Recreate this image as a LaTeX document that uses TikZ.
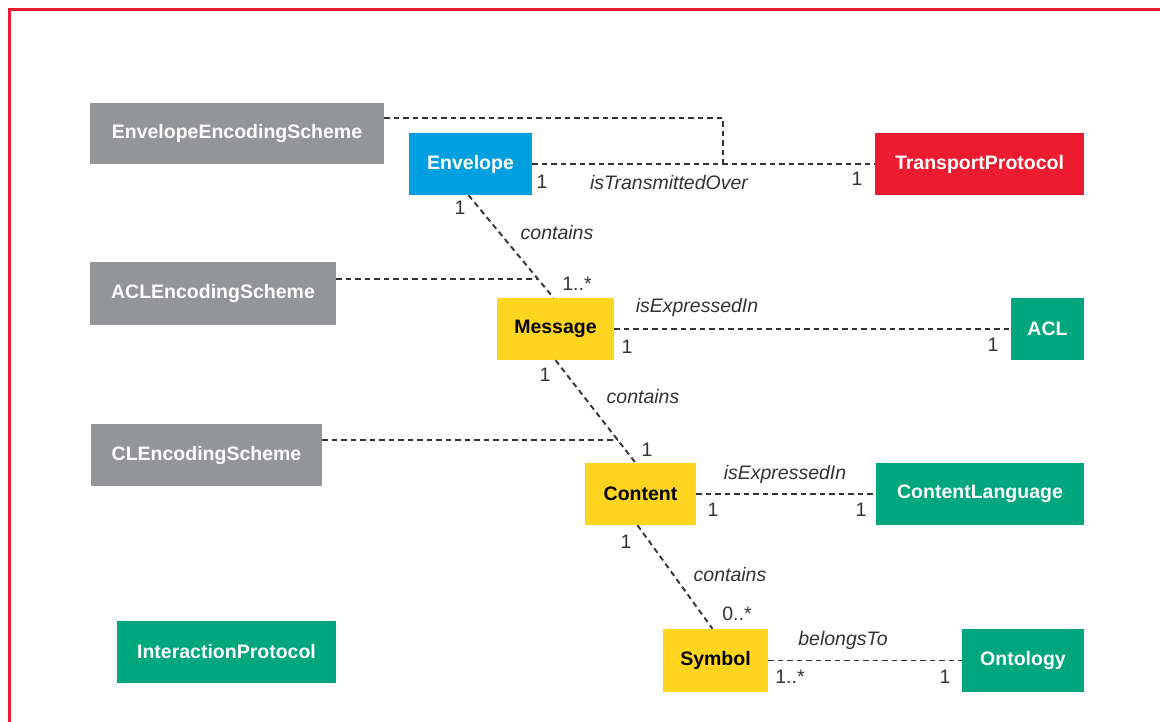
\documentclass[tikz,border=0pt]{standalone}
\usepackage{fontspec}
\setmainfont{Liberation Sans}
\definecolor{schemegray}{HTML}{939598}
\definecolor{envblue}{HTML}{009FDF}
\definecolor{protored}{HTML}{ED1B2F}
\definecolor{msgyellow}{HTML}{FFD520}
\definecolor{langgreen}{HTML}{00A67E}
\definecolor{inkgray}{HTML}{333333}

\begin{document}
\begin{tikzpicture}[
        x=1pt, y=-1pt, % pixel units, y downwards
        box/.style={rectangle, inner sep=0pt, font=\fontsize{19.5}{22}\selectfont\bfseries, text=white}, % class boxes
        gray box/.style={box, fill=schemegray},
        blue box/.style={box, fill=envblue},
        red box/.style={box, fill=protored},
        yellow box/.style={box, fill=msgyellow, text=black},
        green box/.style={box, fill=langgreen},
        link/.style={draw=inkgray, line width=1.9pt, dash pattern=on 5.5pt off 4pt}, % associations
        role/.style={font=\fontsize{19.5}{22}\selectfont\itshape, text=inkgray, inner sep=0pt},
        mult/.style={font=\fontsize{19.5}{22}\selectfont, text=inkgray, inner sep=0pt},
    ]
    \useasboundingbox[fill=white] (0,0) rectangle (1160,722);
    \draw[protored, line width=3pt] (9,722) -- (9,10) -- (1160,10);

    % boxes
    \node[gray box, minimum width=294pt, minimum height=61pt] (envscheme) at (237,133.5) {EnvelopeEncodingScheme};
    \node[blue box, minimum width=123pt, minimum height=62pt] (envelope) at (470.5,164) {Envelope};
    \node[red box, minimum width=209pt, minimum height=62pt] (transport) at (979.5,164) {TransportProtocol};
    \node[gray box, minimum width=246pt, minimum height=63pt] (aclscheme) at (213,293.5) {ACLEncodingScheme};
    \node[yellow box, minimum width=117pt, minimum height=62pt] (message) at (555.5,329) {Message};
    \node[green box, minimum width=73pt, minimum height=62pt] (acl) at (1047.5,329) {ACL};
    \node[gray box, minimum width=231pt, minimum height=62pt] (clscheme) at (206.5,455) {CLEncodingScheme};
    \node[yellow box, minimum width=111pt, minimum height=62pt] (content) at (640.5,494) {Content};
    \node[green box, minimum width=208pt, minimum height=62pt] (contentlang) at (980,494) {ContentLanguage};
    \node[green box, minimum width=219pt, minimum height=62pt] (interaction) at (226.5,652) {InteractionProtocol};
    \node[yellow box, minimum width=105pt, minimum height=63pt] (symbol) at (715.5,660.5) {Symbol};
    \node[green box, minimum width=122pt, minimum height=63pt] (ontology) at (1023,660.5) {Ontology};

    % associations
    \draw[link] (envelope.east) -- (transport.west);
    \draw[link] ([xshift=-2pt]envelope.south) -- ([xshift=-2pt]message.north);
    \draw[link] (message.east) -- (acl.west);
    \draw[link] (message.south) -- ([xshift=-5pt]content.north);
    \draw[link] (content.east) -- (contentlang.west);
    \draw[link] ([xshift=-3pt]content.south) -- ([xshift=-3pt]symbol.north);
    \draw[link] (symbol.east) -- (ontology.west);

    % encoding schemes
    \coordinate (envknee) at (723,118);
    \coordinate (envhit) at (723,164);
    \coordinate (aclhit) at (537,279);
    \coordinate (clhit) at (617,440);
    \draw[link] (envscheme.east |- envknee) -- (envknee) -- (envhit);
    \draw[link] (aclscheme.east |- aclhit) -- (aclhit);
    \draw[link] (clscheme.east |- clhit) -- (clhit);

    % labels
    \node[mult] (m1) at (542,182) {1};
    \node[role] (r1) at (669,183) {isTransmittedOver};
    \node[mult] (m2) at (857,179) {1};
    \node[mult] (m3) at (460,208) {1};
    \node[role] (r2) at (557,233) {contains};
    \node[mult] (m4) at (577,284) {1..*};
    \node[role] (r3) at (697,307) {isExpressedIn};
    \node[mult] (m5) at (627,347) {1};
    \node[mult] (m6) at (993,345) {1};
    \node[mult] (m7) at (545,375) {1};
    \node[role] (r4) at (643,397) {contains};
    \node[mult] (m8) at (647,450) {1};
    \node[role] (r5) at (785,474) {isExpressedIn};
    \node[mult] (m9) at (713,510) {1};
    \node[mult] (m10) at (861,510) {1};
    \node[mult] (m11) at (626,542) {1};
    \node[role] (r6) at (730,575) {contains};
    \node[mult] (m12) at (737,614) {0..*};
    \node[role] (r7) at (843,640) {belongsTo};
    \node[mult] (m13) at (790,677) {1..*};
    \node[mult] (m14) at (945,677) {1};
\end{tikzpicture}
\end{document}
